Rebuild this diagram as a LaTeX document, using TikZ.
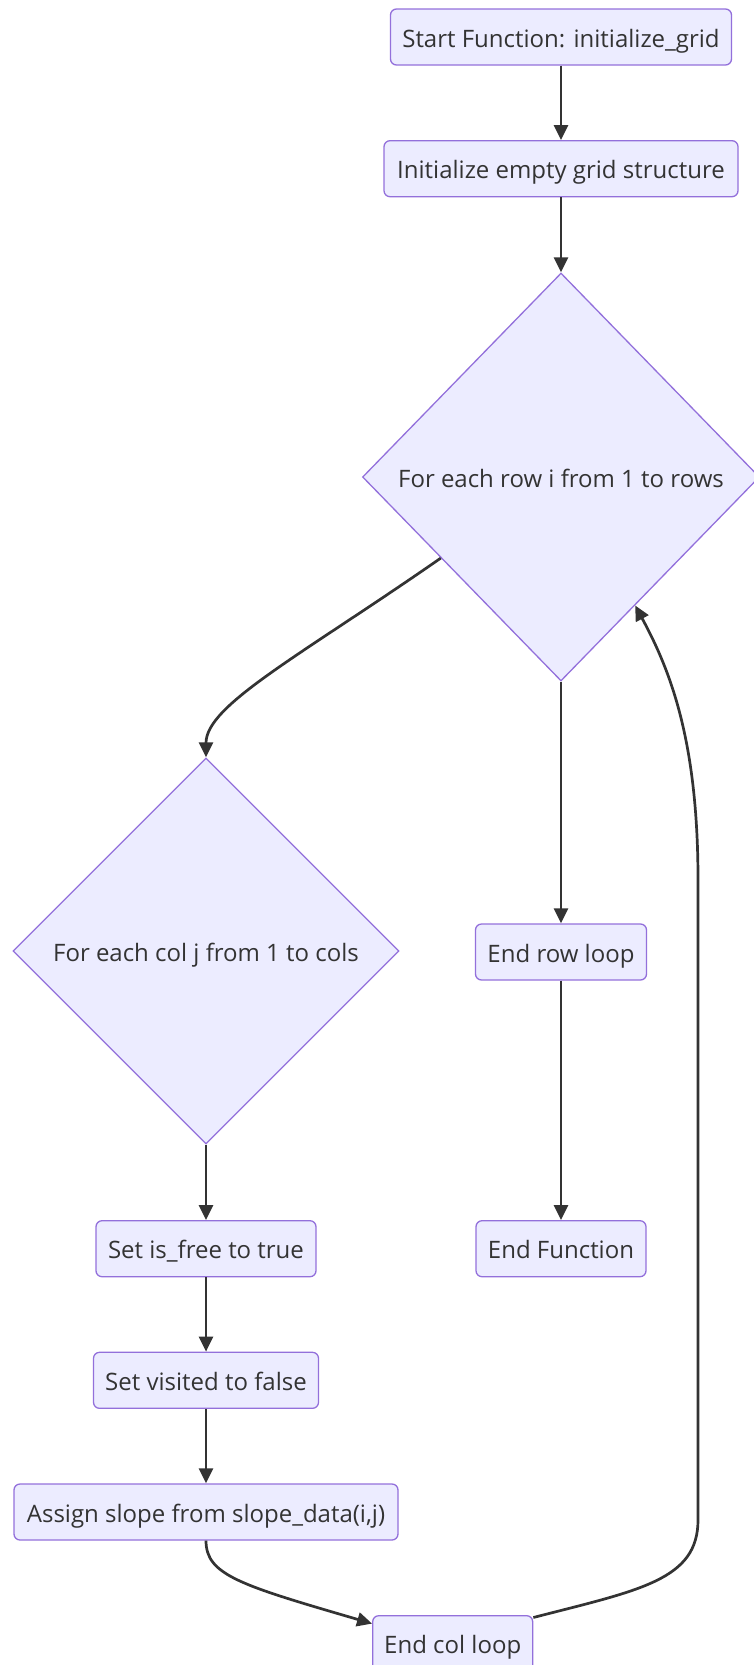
\documentclass[tikz,border=0pt]{standalone}
\usepackage{fontspec}
\setmainfont{Open Sans}
\usetikzlibrary{shapes.geometric,arrows.meta}
\definecolor{nodefill}{HTML}{ECECFF}
\definecolor{nodeborder}{HTML}{9370DB}
\definecolor{ink}{HTML}{333333}
\tikzset{
  box/.style={draw=nodeborder,fill=nodefill,line width=1.3pt,rounded corners=6pt,
    inner sep=0pt,minimum height=56pt,text=ink,text height=23pt,text depth=3pt,
    font=\fontsize{24}{28}\selectfont},
  decision/.style={draw=nodeborder,fill=nodefill,line width=1.3pt,diamond,
    inner sep=0pt,text=ink,text height=23pt,text depth=3pt,
    font=\fontsize{24}{28}\selectfont},
  conn/.style={draw=ink,line width=2.7pt,-{Triangle[length=15pt,width=14pt]}},
}
\begin{document}
\begin{tikzpicture}[x=1pt,y=-1pt]
\useasboundingbox (0,0) rectangle (753,1665);
\node[box,minimum width=341pt] (start) at (561,37) {Start Function: initialize\_grid};
\node[box,minimum width=354pt] (init) at (561,168.7) {Initialize empty grid structure};
\node[decision,minimum width=397pt,minimum height=408pt] (row) at (561,477) {For each row i from 1 to rows};
\node[decision,minimum width=386pt,minimum height=386pt] (col) at (206,951) {For each col j from 1 to cols};
\node[box,minimum width=171pt] (endrow) at (561,952) {End row loop};
\node[box,minimum width=170pt] (endfunc) at (561,1248.7) {End Function};
\node[box,minimum width=220pt] (isfree) at (206,1248.7) {Set is\_free to true};
\node[box,minimum width=225pt] (visited) at (206,1380.3) {Set visited to false};
\node[box,minimum width=384pt] (assign) at (206,1512) {Assign slope from slope\_data(i,j)};
\node[box,minimum width=160pt] (endcol) at (452.7,1643.7) {End col loop};

\draw[conn] (start) -- (init);
\draw[conn] (init) -- (row);
\draw[conn] (row.214) .. controls (300,656) and (206,705) .. (col.north);
\draw[conn] (row.south) -- (endrow.north);
\draw[conn] (endrow) -- (endfunc);
\draw[conn] (col.south) -- (isfree.north);
\draw[conn] (isfree) -- (visited);
\draw[conn] (visited) -- (assign);
\draw[conn] (assign.south) .. controls (206,1575) and (240,1585) .. (endcol.166);
\draw[conn] (endcol.18) .. controls (640,1590) and (698,1580) .. (698,1520)
  -- (698,880) .. controls (698,740) and (670,670) .. (row.-60);
\end{tikzpicture}
\end{document}
